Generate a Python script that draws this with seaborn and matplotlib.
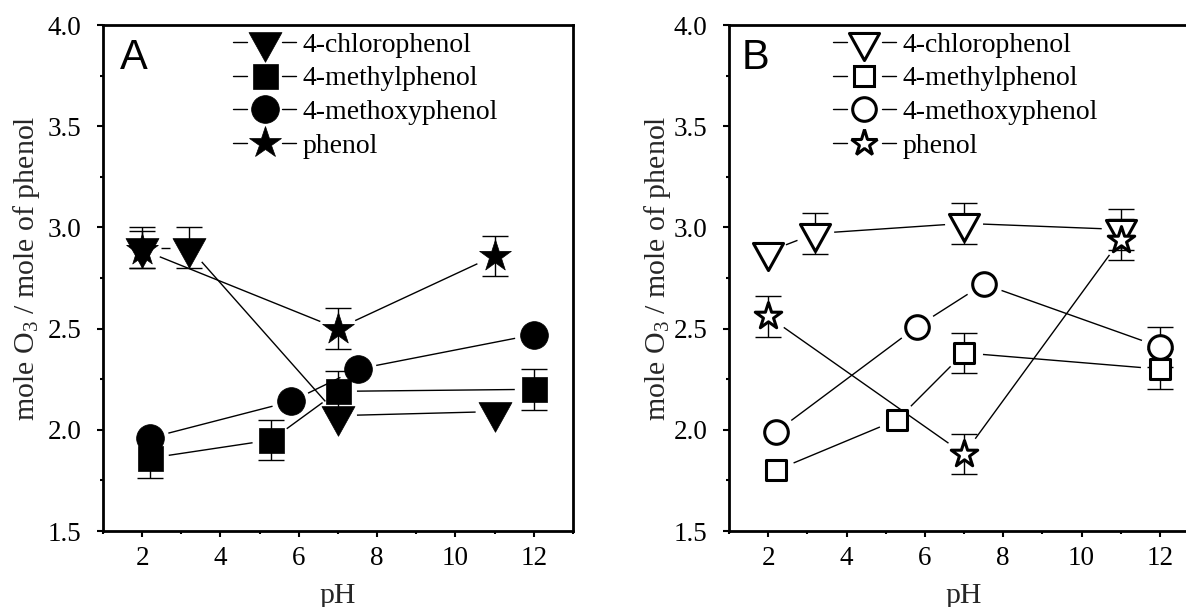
import numpy as np
import pandas as pd
import matplotlib
matplotlib.use("Agg")
import matplotlib.pyplot as plt
import seaborn as sns
from matplotlib.lines import Line2D
from matplotlib.path import Path
from matplotlib.legend_handler import HandlerBase
from matplotlib.ticker import MultipleLocator

# ---------------- data ----------------
compounds = ["4-chlorophenol", "4-methylphenol", "4-methoxyphenol", "phenol"]

# Panel A
a_chloro_ph = [2.0, 3.2, 7.0, 11.0]
a_chloro_val = [2.90, 2.90, 2.07, 2.09]
a_chloro_err = [0.10, 0.10, 0.0, 0.0]

a_methyl_ph = [2.2, 5.3, 7.0, 12.0]
a_methyl_val = [1.86, 1.95, 2.19, 2.20]
a_methyl_err = [0.10, 0.10, 0.10, 0.10]

a_methoxy_ph = [2.2, 5.8, 7.5, 12.0]
a_methoxy_val = [1.96, 2.14, 2.30, 2.47]
a_methoxy_err = [0.0, 0.0, 0.0, 0.0]

a_phenol_ph = [2.0, 7.0, 11.0]
a_phenol_val = [2.89, 2.50, 2.86]
a_phenol_err = [0.09, 0.10, 0.10]

# Panel B
b_chloro_ph = [2.0, 3.2, 7.0, 11.0]
b_chloro_val = [2.88, 2.97, 3.02, 2.99]
b_chloro_err = [0.0, 0.10, 0.10, 0.10]

b_methyl_ph = [2.2, 5.3, 7.0, 12.0]
b_methyl_val = [1.80, 2.05, 2.38, 2.30]
b_methyl_err = [0.0, 0.0, 0.10, 0.10]

b_methoxy_ph = [2.2, 5.8, 7.5, 12.0]
b_methoxy_val = [1.99, 2.51, 2.72, 2.41]
b_methoxy_err = [0.0, 0.0, 0.0, 0.10]

b_phenol_ph = [2.0, 7.0, 11.0]
b_phenol_val = [2.56, 1.88, 2.94]
b_phenol_err = [0.10, 0.10, 0.10]

x_ticks = [2, 4, 6, 8, 10, 12]
y_ticks = [1.5, 2.0, 2.5, 3.0, 3.5, 4.0]
x_label = "pH"
y_label = r"mole O$_3$ / mole of phenol"
panel_tags = ["A", "B"]


def long_table(panel, rows):
    frames = []
    for name, ph, val, err in rows:
        frames.append(pd.DataFrame({"panel": panel, "compound": name,
                                    "pH": ph, "value": val, "err": err}))
    return pd.concat(frames, ignore_index=True)


data = pd.concat([
    long_table("A", [(compounds[0], a_chloro_ph, a_chloro_val, a_chloro_err),
                     (compounds[1], a_methyl_ph, a_methyl_val, a_methyl_err),
                     (compounds[2], a_methoxy_ph, a_methoxy_val, a_methoxy_err),
                     (compounds[3], a_phenol_ph, a_phenol_val, a_phenol_err)]),
    long_table("B", [(compounds[0], b_chloro_ph, b_chloro_val, b_chloro_err),
                     (compounds[1], b_methyl_ph, b_methyl_val, b_methyl_err),
                     (compounds[2], b_methoxy_ph, b_methoxy_val, b_methoxy_err),
                     (compounds[3], b_phenol_ph, b_phenol_val, b_phenol_err)]),
], ignore_index=True)

# ---------------- style ----------------
sns.set_style("ticks")
plt.rcParams.update({
    "font.family": ["Liberation Serif", "DejaVu Serif"],
    "mathtext.fontset": "custom",
    "mathtext.rm": "Liberation Serif",
    "mathtext.default": "regular",
    "axes.linewidth": 2.0,
    "axes.edgecolor": "black",
    "xtick.color": "black",
    "ytick.color": "black",
    "text.color": "black",
})

# down-pointing triangle centred on its centroid
tri_down = Path([(-1.0, 0.6), (1.0, 0.6), (0.0, -1.2), (-1.0, 0.6)],
                [Path.MOVETO, Path.LINETO, Path.LINETO, Path.CLOSEPOLY])

marker_shape = {compounds[0]: tri_down, compounds[1]: "s",
                compounds[2]: "o", compounds[3]: "*"}
size_filled = {compounds[0]: 28.5, compounds[1]: 18, compounds[2]: 20, compounds[3]: 24}
size_open = {compounds[0]: 26, compounds[1]: 15, compounds[2]: 17, compounds[3]: 20}

DPI = 100
fig = plt.figure(figsize=(11.86, 6.07), dpi=DPI)
axA = fig.add_axes([0.0868, 0.1252, 0.3963, 0.8336])
axB = fig.add_axes([0.6147, 0.1252, 0.3963, 0.8336])
axes = {"A": axA, "B": axB}

GAP_PX = 19  # clearance between connecting lines and marker centres


def gapped_line(ax, xs, ys):
    pts = ax.transData.transform(np.column_stack([xs, ys]))
    inv = ax.transData.inverted()
    for p0, p1 in zip(pts[:-1], pts[1:]):
        d = p1 - p0
        length = np.hypot(d[0], d[1])
        if length <= 2 * GAP_PX:
            continue
        u = d / length
        a = inv.transform(p0 + u * GAP_PX)
        b = inv.transform(p1 - u * GAP_PX)
        ax.plot([a[0], b[0]], [a[1], b[1]], color="black", lw=1.0,
                solid_capstyle="butt", zorder=2)


class GapHandler(HandlerBase):
    """Legend key: short dash, marker, short dash."""

    def create_artists(self, legend, orig, xdescent, ydescent, width,
                       height, fontsize, trans):
        y = height / 2.0 - ydescent
        x0 = -xdescent
        x1 = x0 + width
        seg = width * 0.22
        left = Line2D([x0, x0 + seg], [y, y], color="black", lw=1.0)
        right = Line2D([x1 - seg, x1], [y, y], color="black", lw=1.0)
        mark = Line2D([(x0 + x1) / 2.0], [y], ls="none",
                      marker=orig.get_marker(), ms=orig.get_markersize(),
                      mfc=orig.get_markerfacecolor(),
                      mec=orig.get_markeredgecolor(),
                      mew=orig.get_markeredgewidth())
        for art in (left, right, mark):
            art.set_transform(trans)
        return [left, right, mark]


legend_anchor = {"A": (0.277, 0.986), "B": (0.221, 0.986)}
tag_pos = {"A": (0.036, 0.975), "B": (0.027, 0.975)}
ylabel_x = {"A": -0.13, "B": -0.119}

for tag in panel_tags:
    ax = axes[tag]
    filled = tag == "A"
    ax.set_xlim(1, 13)
    ax.set_ylim(1.5, 4.0)
    sub = data[data["panel"] == tag]

    handles = []
    for name in compounds:
        s = sub[sub["compound"] == name]
        gapped_line(ax, s["pH"].to_numpy(), s["value"].to_numpy())

        e = s[s["err"] > 0]
        if len(e):
            ax.errorbar(e["pH"], e["value"], yerr=e["err"], fmt="none",
                        ecolor="black", elinewidth=1.0, capsize=9.4,
                        capthick=1.0, zorder=3)

        ms = size_filled[name] if filled else size_open[name]
        face = "black" if filled else "white"
        lw = 0.5 if filled else 2.2
        sns.scatterplot(data=s, x="pH", y="value", ax=ax,
                        marker=marker_shape[name], s=ms ** 2,
                        color=face, edgecolor="black", linewidth=lw,
                        zorder=4, legend=False)
        handles.append(Line2D([], [], ls="none", marker=marker_shape[name],
                              ms=ms, mfc=face, mec="black", mew=lw))

    ax.legend(handles, compounds, loc="upper left",
              bbox_to_anchor=legend_anchor[tag], frameon=False,
              fontsize=20, handlelength=2.27, handletextpad=0.24,
              labelspacing=0.3, borderpad=0, borderaxespad=0,
              handler_map={Line2D: GapHandler()})

    ax.text(*tag_pos[tag], tag, transform=ax.transAxes, ha="left", va="top",
            fontsize=30, family="Liberation Sans")

    ax.set_xticks(x_ticks)
    ax.set_yticks(y_ticks)
    ax.set_yticklabels([f"{v:.1f}" for v in y_ticks])
    ax.xaxis.set_minor_locator(MultipleLocator(1))
    ax.yaxis.set_minor_locator(MultipleLocator(0.25))
    ax.tick_params(which="both", direction="out", top=False, right=False,
                   width=1.5, labelsize=19.5)
    ax.tick_params(axis="x", which="major", length=4.5, pad=6)
    ax.tick_params(axis="y", which="major", length=4.5, pad=11)
    ax.tick_params(which="minor", length=2.5)
    for side in ("top", "right", "left", "bottom"):
        ax.spines[side].set_visible(True)
        ax.spines[side].set_linewidth(2.0)

    ax.set_xlabel(x_label, fontsize=21.5)
    ax.set_ylabel(y_label, fontsize=21.5)
    ax.xaxis.set_label_coords(0.5, -0.102)
    ax.yaxis.set_label_coords(ylabel_x[tag], 0.52)

fig.savefig("out.png", dpi=DPI)
